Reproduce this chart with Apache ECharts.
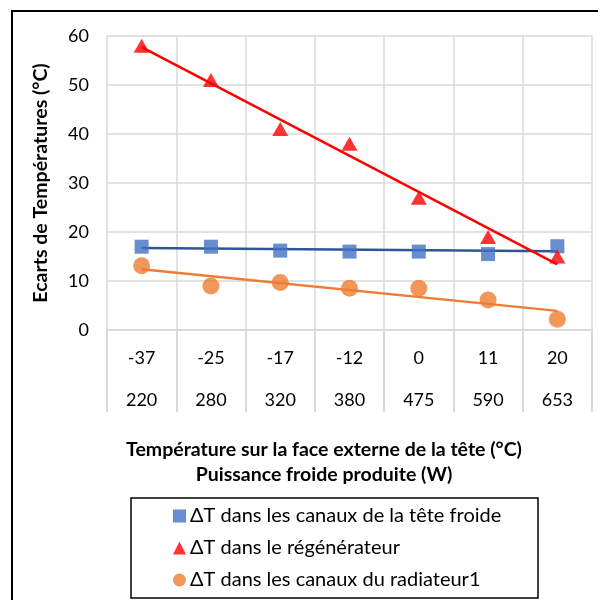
<!DOCTYPE html>
<html><head><meta charset="utf-8">
<script src="https://cdn.jsdelivr.net/npm/echarts@6/dist/echarts.min.js"></script>
<style>html,body{margin:0;padding:0;background:#fff}#c{width:598px;height:600px}</style>
</head><body><div id="c"></div>
<script>
var temperatures = ['-37','-25','-17','-12','0','11','20'];
var powers = ['220','280','320','380','475','590','653'];
var teteFroide = [17.0, 17.0, 16.2, 16.0, 16.0, 15.5, 17.1];
var regenerateur = [58, 51, 41, 38, 27, 19, 15];
var radiateur = [13.1, 9.0, 9.7, 8.5, 8.5, 6.1, 2.2];
var seriesNames = ['ΔT dans les canaux de la tête froide','ΔT dans le régénérateur','ΔT dans les canaux du radiateur1'];
var yTicks = [0, 10, 20, 30, 40, 50, 60];
var xTitleLines = ['Température sur la face externe de la tête (°C)','Puissance froide produite (W)'];

function trend(vals){
  var n = vals.length, mx = (n-1)/2, my = 0, sxy = 0, sxx = 0;
  vals.forEach(function(v){ my += v; }); my /= n;
  vals.forEach(function(v,i){ sxy += (i-mx)*(v-my); sxx += (i-mx)*(i-mx); });
  var b = sxy/sxx, a = my - b*mx;
  return [[0, a], [n-1, a + b*(n-1)]];
}

var font = 'Lato, "Open Sans", sans-serif';
var chart = echarts.init(document.getElementById('c'));
var gridColor = '#d9d9d9';
chart.setOption({
  animation:false,
  textStyle:{fontFamily:font},
  graphic:[
    {type:'rect', shape:{x:12,y:11,width:620,height:620}, style:{fill:'none',stroke:'#000',lineWidth:2}, z:-1},
    {type:'rect', shape:{x:131,y:498,width:407,height:100}, style:{fill:'none',stroke:'#000',lineWidth:1.5}, z:-1},
    {type:'text', x:324, y:450, style:{text:xTitleLines[0], font:'bold 19.5px '+font, fill:'#000', align:'center', verticalAlign:'middle'}},
    {type:'text', x:324, y:475, style:{text:xTitleLines[1], font:'bold 19.5px '+font, fill:'#000', align:'center', verticalAlign:'middle'}}
  ],
  grid:{left:107,right:6,top:36,bottom:270},
  legend:{
    orient:'vertical', left:168, top:504, itemGap:12, itemWidth:13, itemHeight:13, padding:[2,5,2,5],
    data:seriesNames,
    textStyle:{fontSize:20,color:'#000',fontFamily:font, padding:[0,0,0,-1]}
  },
  xAxis:[
    {type:'category', data:temperatures, boundaryGap:true,
     axisLine:{lineStyle:{color:gridColor,width:2}},
     axisTick:{show:true,length:82,lineStyle:{color:gridColor,width:2}},
     splitLine:{show:true,lineStyle:{color:gridColor,width:1.5}},
     axisLabel:{margin:19,fontSize:18,color:'#000',fontFamily:font}},
    {type:'category', data:powers, position:'bottom', boundaryGap:true,
     axisLine:{show:false}, axisTick:{show:false}, splitLine:{show:false},
     axisLabel:{margin:61,fontSize:18,color:'#000',fontFamily:font}}
  ],
  yAxis:{type:'value', min:yTicks[0], max:yTicks[yTicks.length-1], interval:10,
    name:'Ecarts de Températures (°C)', nameLocation:'middle', nameGap:56,
    nameTextStyle:{fontSize:19.5,fontWeight:'bold',color:'#000',fontFamily:font},
    axisLine:{show:false}, axisTick:{show:false},
    splitLine:{lineStyle:{color:gridColor,width:1.5}},
    axisLabel:{margin:18,fontSize:18,color:'#000',fontFamily:font}},
  series:[
    {name:'trend1', type:'line', data:trend(teteFroide), symbol:'none', lineStyle:{color:'#2F5597',width:2.5}, z:2, silent:true},
    {name:'trend2', type:'line', data:trend(regenerateur), symbol:'none', lineStyle:{color:'#FF0000',width:2.5}, z:2, silent:true},
    {name:'trend3', type:'line', data:trend(radiateur), symbol:'none', lineStyle:{color:'#ED7D31',width:2.5}, z:2, silent:true},
    {name:seriesNames[0], type:'scatter', data:teteFroide, symbol:'rect', symbolSize:14, itemStyle:{color:'#4472C4'}, z:3},
    {name:seriesNames[1], type:'scatter', data:regenerateur, symbol:'triangle', symbolSize:[16,14], itemStyle:{color:'#FF0000'}, z:3},
    {name:seriesNames[2], type:'scatter', data:radiateur, symbol:'circle', symbolSize:17, itemStyle:{color:'#ED7D31'}, z:3}
  ]
});
</script></body></html>
